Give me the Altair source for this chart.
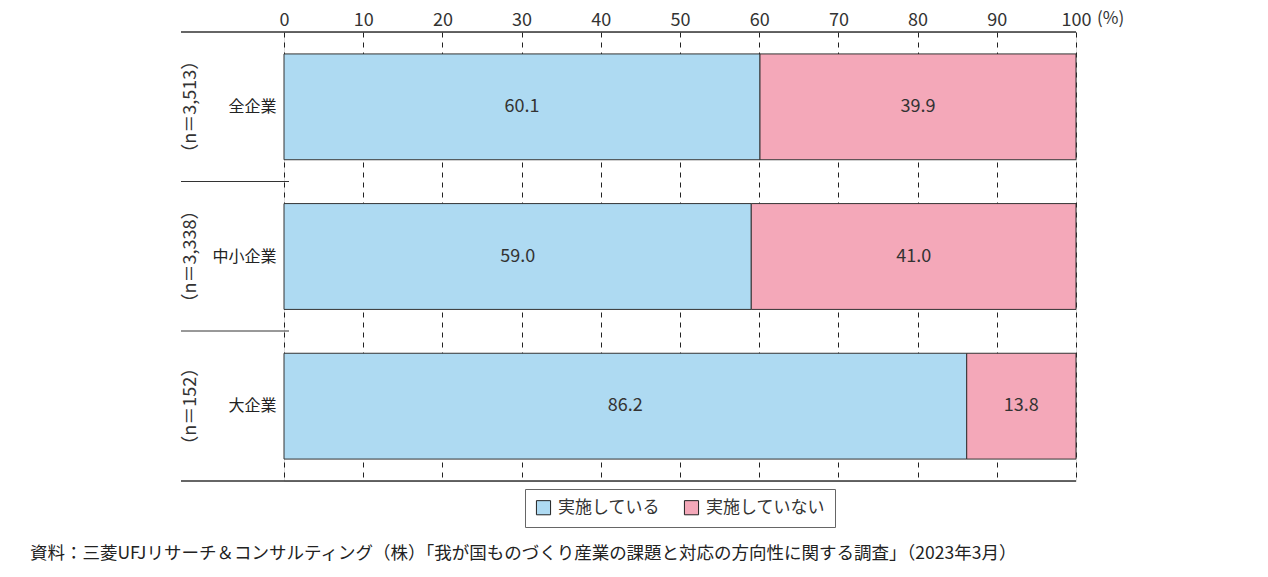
import altair as alt
import pandas as pd

categories = ["全企業", "中小企業", "大企業"]
n_labels = ["（n＝3,513）", "（n＝3,338）", "（n＝152）"]
series = ["実施している", "実施していない"]
implemented = [60.1, 59.0, 86.2]
not_implemented = [39.9, 41.0, 13.8]
colors = ["#aedaf2", "#f4a8b9"]
source_text = "資料：三菱UFJリサーチ＆コンサルティング（株）「我が国ものづくり産業の課題と対応の方向性に関する調査」（2023年3月）"

FONT = "Noto Sans CJK JP"

rows = []
for i, c in enumerate(categories):
    rows.append({"cat": c, "series": series[0], "order": 0, "value": implemented[i]})
    rows.append({"cat": c, "series": series[1], "order": 1, "value": not_implemented[i]})
df = pd.DataFrame(rows)
ndf = pd.DataFrame({"cat": categories, "n": n_labels})

yscale = alt.Scale(domain=categories, paddingInner=0.293, paddingOuter=0.1465)

base = alt.Chart(df)

bars = base.mark_bar(stroke="#333333", strokeWidth=1).encode(
    x=alt.X("value:Q", stack="zero",
            scale=alt.Scale(domain=[0, 100], nice=False),
            axis=alt.Axis(orient="top", values=list(range(0, 101, 10)), title=None,
                          grid=True, gridDash=[5, 5], gridColor="#222222", gridWidth=1,
                          domain=False, ticks=False, labelFontSize=18, labelColor="#333333",
                          labelFont=FONT, labelPadding=3, labelFlush=False)),
    y=alt.Y("cat:N", scale=yscale, sort=categories,
            axis=alt.Axis(title=None, domain=False, ticks=False, labelFontSize=16,
                          labelColor="#222222", labelFont=FONT, labelPadding=8)),
    color=alt.Color("series:N", scale=alt.Scale(domain=series, range=colors),
                    legend=alt.Legend(title=None, orient="none", direction="horizontal",
                                      legendX=241, legendY=457,
                                      symbolType="square", symbolSize=200,
                                      symbolStrokeColor="#222222", symbolStrokeWidth=1,
                                      labelFontSize=17, labelFont=FONT, labelColor="#333333",
                                      strokeColor="#666666", padding=10,
                                      columnPadding=22, labelOffset=6)),
    order=alt.Order("order:Q"),
)

labels = base.transform_stack(
    stack="value", groupby=["cat"], as_=["v0", "v1"], sort=[alt.SortField("order")]
).transform_calculate(mid="(datum.v0 + datum.v1) / 2").mark_text(
    fontSize=18, color="#333333", font=FONT
).encode(
    x=alt.X("mid:Q"),
    y=alt.Y("cat:N", scale=yscale, sort=categories),
    text=alt.Text("value:Q", format=".1f"),
)

nlab = alt.Chart(ndf).mark_text(angle=270, fontSize=18, color="#333333", font=FONT).encode(
    x=alt.value(-93),
    y=alt.Y("cat:N", scale=yscale, sort=categories),
    text="n:N",
)

line_df = pd.DataFrame({"k": [0]})
top_line = alt.Chart(line_df).mark_rule(color="#333333", strokeWidth=1.5).encode(
    x=alt.value(-103), x2=alt.value(792), y=alt.value(0))
bottom_line = alt.Chart(line_df).mark_rule(color="#333333", strokeWidth=1.5).encode(
    x=alt.value(-103), x2=alt.value(792), y=alt.value(449))
sep1 = alt.Chart(line_df).mark_rule(color="#333333", strokeWidth=1).encode(
    x=alt.value(-103), x2=alt.value(5), y=alt.value(149.5))
sep2 = alt.Chart(line_df).mark_rule(color="#333333", strokeWidth=1).encode(
    x=alt.value(-103), x2=alt.value(5), y=alt.value(299))

pct = alt.Chart(line_df).mark_text(align="left", fontSize=17, color="#333333", font=FONT).encode(
    x=alt.value(813), y=alt.value(-13), text=alt.value("(%)"))
src = alt.Chart(line_df).mark_text(align="left", fontSize=17.5, color="#222222", font=FONT).encode(
    x=alt.value(-254), y=alt.value(522), text=alt.value(source_text))

chart = alt.layer(bars, labels, nlab, top_line, bottom_line, sep1, sep2, pct, src).properties(
    width=792, height=449,
    autosize=alt.AutoSizeParams(type="none"),
    padding={"left": 284, "top": 32, "right": 192, "bottom": 96},
).configure_view(stroke=None).configure(background="white")

chart.save("out.html", embed_options={"renderer": "svg", "actions": False})
